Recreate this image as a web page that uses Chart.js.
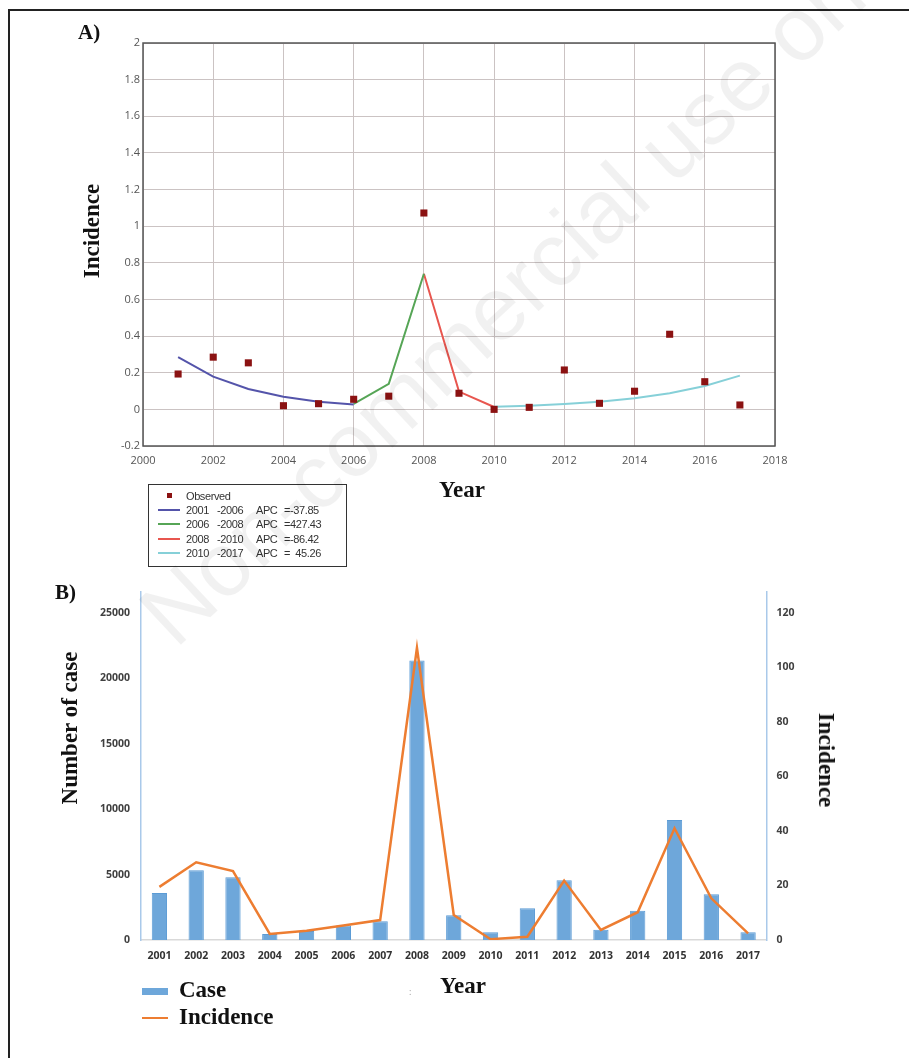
<!DOCTYPE html>
<html>
<head>
<meta charset="utf-8">
<script src="https://cdn.jsdelivr.net/npm/chart.js@4.4.1/dist/chart.umd.min.js"></script>
<style>
  body { margin: 0; background: #fff; width: 909px; height: 1058px; overflow: hidden; position: relative; }
  .frame { position: absolute; left: 8px; top: 9px; width: 920px; height: 1100px; border-left: 2px solid #222; border-top: 2px solid #222; }
  canvas { position: absolute; left: 0; }
  .lbl { position: absolute; font-family: "Liberation Serif", serif; font-weight: bold; color: #111; white-space: nowrap; }
  .rot { transform: translate(-50%, -50%) rotate(-90deg); }
  .rot90 { transform: translate(-50%, -50%) rotate(90deg); }
  .ctr { transform: translate(-50%, -50%); }
  #legA { position: absolute; left: 148px; top: 484px; width: 197px; height: 81px; border: 1px solid #333;
          font-family: "Liberation Sans", sans-serif; font-size: 11px; letter-spacing: -0.4px; color: #333; }
  #legA .row { position: absolute; left: 0; height: 14px; line-height: 14px; }
  #legA span { position: absolute; white-space: nowrap; }
  .mark { position: absolute; }
  .wm { position: absolute; left: 185px; top: 570px; font-family: "Liberation Sans", sans-serif; font-size: 90px; line-height: 90px;
        color: rgba(0,0,0,0.055); white-space: nowrap; transform-origin: 0 100%; transform: rotate(-43deg); pointer-events: none; }
</style>
</head>
<body>
<div class="frame"></div>

<canvas id="chartA" width="909" height="480" style="top:0"></canvas>
<canvas id="chartB" width="909" height="420" style="top:570px"></canvas>

<div class="lbl" style="left:78px; top:20px; font-size:21px;">A)</div>
<div class="lbl rot" style="left:92px; top:231px; font-size:23px;">Incidence</div>
<div class="lbl ctr" style="left:462px; top:490px; font-size:23px;">Year</div>
<div id="legA"></div>

<div class="lbl" style="left:55px; top:580px; font-size:21px;">B)</div>
<div class="lbl rot" style="left:70px; top:728px; font-size:23px;">Number of case</div>
<div class="lbl rot90" style="left:826px; top:760px; font-size:23px;">Incidence</div>
<div class="lbl ctr" style="left:463px; top:986px; font-size:23px;">Year</div>
<div class="mark" style="left:142px; top:988px; width:26px; height:7px; background:#6ea7da;"></div>
<div class="lbl" style="left:179px; top:977px; font-size:23px;">Case</div>
<div class="mark" style="left:142px; top:1017px; width:26px; height:2px; background:#ed7d31;"></div>
<div class="lbl" style="left:179px; top:1004px; font-size:23px;">Incidence</div>
<div style="position:absolute; left:409px; top:985px; font:9px 'Open Sans', sans-serif; color:#999;">:</div>

<div class="wm">Non-commercial use only</div>

<script>
// ---- panel A: joinpoint model ----
const obsYears = [2001, 2002, 2003, 2004, 2005, 2006, 2007, 2008, 2009, 2010, 2011, 2012, 2013, 2014, 2015, 2016, 2017];
const observed = [0.193, 0.285, 0.254, 0.02, 0.031, 0.055, 0.072, 1.072, 0.088, 0.0, 0.011, 0.215, 0.033, 0.099, 0.41, 0.151, 0.024];

const seg1Years = [2001, 2002, 2003, 2004, 2005, 2006];
const seg1Vals = [0.285, 0.179, 0.111, 0.069, 0.042, 0.026];
const seg2Years = [2006, 2007, 2008];
const seg2Vals = [0.03, 0.139, 0.74];
const seg3Years = [2008, 2009, 2010];
const seg3Vals = [0.74, 0.097, 0.013];
const seg4Years = [2010, 2011, 2012, 2013, 2014, 2015, 2016, 2017];
const seg4Vals = [0.014, 0.02, 0.029, 0.041, 0.061, 0.088, 0.128, 0.184];

const segFrom = ['2001', '2006', '2008', '2010'];
const segTo = ['-2006', '-2008', '-2010', '-2017'];
const segApc = ['=-37.85', '=427.43', '=-86.42', '=  45.26'];
const segColors = ['#5454aa', '#56a556', '#e8564f', '#86d0d8'];

// ---- panel B: cases and incidence per year ----
const yearLabels = ['2001', '2002', '2003', '2004', '2005', '2006', '2007', '2008', '2009', '2010', '2011', '2012', '2013', '2014', '2015', '2016', '2017'];
const cases = [3600, 5330, 4800, 460, 690, 1100, 1430, 21370, 1890, 590, 2425, 4570, 790, 2240, 9180, 3500, 590];
const incidence = [19.5, 28.5, 25.3, 2.2, 3.4, 5.3, 7.3, 107.2, 9.2, 0.3, 1.2, 21.8, 3.7, 10.2, 41.0, 15.3, 2.4];
const caseTicks = [0, 5000, 10000, 15000, 20000, 25000];
const incTicks = [0, 20, 40, 60, 80, 100, 120];

const pts = (xs, ys) => xs.map((x, i) => ({ x: x, y: ys[i] }));

const frameBox = {
    id: 'frameBox',
    afterDraw(chart) {
        const a = chart.chartArea, ctx = chart.ctx;
        ctx.save();
        ctx.strokeStyle = '#555';
        ctx.lineWidth = 1.5;
        ctx.strokeRect(a.left, a.top, a.right - a.left, a.bottom - a.top);
        ctx.restore();
    }
};

const segs = [[seg1Years, seg1Vals], [seg2Years, seg2Vals], [seg3Years, seg3Vals], [seg4Years, seg4Vals]];
const lineSets = segs.map((s, i) => ({
    type: 'line',
    label: segFrom[i] + ' ' + segTo[i],
    data: pts(s[0], s[1]),
    borderColor: segColors[i],
    borderWidth: 2,
    pointRadius: 0,
    showLine: true,
    tension: 0
}));

const tickA = { family: 'Open Sans', size: 11 };

new Chart(document.getElementById('chartA'), {
    type: 'scatter',
    data: {
        datasets: [{
            label: 'Observed',
            data: pts(obsYears, observed),
            pointStyle: 'rect',
            pointRadius: 5,
            borderWidth: 0,
            backgroundColor: '#8b1212'
        }, ...lineSets]
    },
    options: {
        responsive: false,
        animation: false,
        layout: { padding: { left: 103, right: 134, top: 43, bottom: 0 } },
        plugins: { legend: { display: false }, tooltip: { enabled: false } },
        scales: {
            x: {
                type: 'linear', min: 2000, max: 2018,
                ticks: { stepSize: 2, callback: v => String(v), font: tickA, color: '#555', padding: 8, maxRotation: 0 },
                grid: { color: '#cbc3c3', drawTicks: false },
                border: { display: false },
                afterFit: s => { s.height = 34; }
            },
            y: {
                min: -0.2, max: 2,
                ticks: { stepSize: 0.2, callback: v => String(Math.round(v * 10) / 10), font: tickA, color: '#555', padding: 3 },
                grid: { color: '#cbc3c3', drawTicks: false },
                border: { display: false },
                afterFit: s => { s.width = 40; }
            }
        }
    },
    plugins: [frameBox]
});

// legend for panel A, built from the segment arrays
const leg = document.getElementById('legA');
let html = '<div class="row" style="top:4px;width:197px"><span style="left:18px;top:4px;width:5px;height:5px;background:#8b1212"></span><span style="left:37px">Observed</span></div>';
segFrom.forEach((f, i) => {
    const top = 18 + i * 14.3;
    html += '<div class="row" style="top:' + top + 'px;width:197px">' +
        '<span style="left:9px;top:6px;width:22px;height:2px;background:' + segColors[i] + '"></span>' +
        '<span style="left:37px">' + f + '</span>' +
        '<span style="left:68px">' + segTo[i] + '</span>' +
        '<span style="left:107px">APC</span>' +
        '<span style="left:135px">' + segApc[i].replace(/ /g, '&nbsp;') + '</span></div>';
});
leg.innerHTML = html;

const tickB = { family: 'Open Sans', size: 10.5, weight: 'bold' };

new Chart(document.getElementById('chartB'), {
    type: 'bar',
    data: {
        labels: yearLabels,
        datasets: [{
            type: 'line',
            label: 'Incidence',
            data: incidence,
            yAxisID: 'y1',
            borderColor: '#ed7d31',
            borderWidth: 2.5,
            pointRadius: 0,
            tension: 0,
            order: 0
        }, {
            type: 'bar',
            label: 'Case',
            data: cases,
            yAxisID: 'y',
            backgroundColor: '#6ea7da',
            borderColor: '#5b9bd5',
            borderWidth: 1,
            barPercentage: 0.83,
            categoryPercentage: 0.5,
            order: 1
        }]
    },
    options: {
        responsive: false,
        animation: false,
        layout: { padding: { left: 81, right: 82.5, top: 22, bottom: 0 } },
        plugins: { legend: { display: false }, tooltip: { enabled: false } },
        scales: {
            x: {
                grid: { display: false, drawTicks: false },
                border: { color: '#d9d9d9', width: 1.5 },
                ticks: { font: tickB, color: '#333', padding: 10, maxRotation: 0 },
                afterFit: s => { s.height = 50; }
            },
            y: {
                position: 'left', min: 0, max: 26600,
                ticks: { callback: v => String(v), font: tickB, color: '#404040', padding: 11, autoSkip: false },
                afterBuildTicks: s => { s.ticks = caseTicks.map(v => ({ value: v })); },
                grid: { display: false, drawTicks: false },
                border: { color: '#a9c9ea', width: 1.5 },
                afterFit: s => { s.width = 60; }
            },
            y1: {
                position: 'right', min: 0, max: 127.7,
                ticks: { callback: v => String(v), font: tickB, color: '#404040', padding: 10, autoSkip: false },
                afterBuildTicks: s => { s.ticks = incTicks.map(v => ({ value: v })); },
                grid: { display: false, drawTicks: false },
                border: { color: '#a9c9ea', width: 1.5 },
                afterFit: s => { s.width = 60; }
            }
        }
    }
});
</script>
</body>
</html>
